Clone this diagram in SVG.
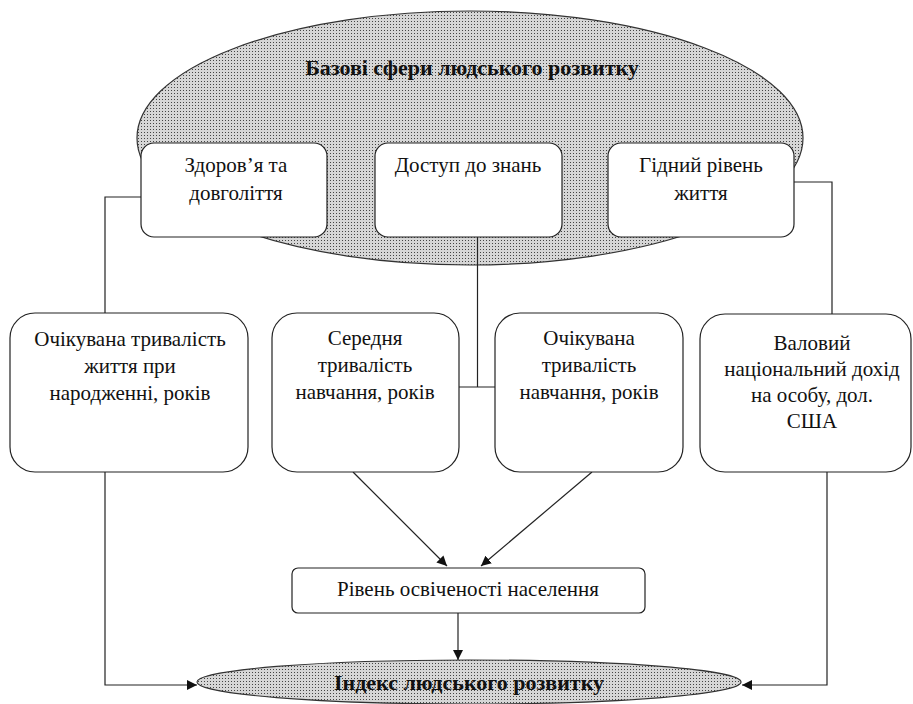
<svg xmlns="http://www.w3.org/2000/svg" width="913" height="704" viewBox="0 0 913 704">
<style>
.box{fill:#fff;stroke:#222;stroke-width:1.2}
.ell{fill:url(#dots);stroke:#333;stroke-width:1.2}
.t{font-family:"Liberation Serif","Times New Roman",serif;font-size:21px;fill:#111;text-anchor:middle}
.tb{font-family:"Liberation Serif","Times New Roman",serif;font-size:22px;font-weight:bold;fill:#111;text-anchor:middle}
.ln{fill:none;stroke:#222;stroke-width:1.2}
</style>
<defs>
<pattern id="dots" width="3" height="3" patternUnits="userSpaceOnUse">
<rect width="3" height="3" fill="#d6d6d6"/>
<rect width="1" height="1" fill="#444"/>
</pattern>
<marker id="arr" viewBox="0 0 10 10" refX="10" refY="5" markerWidth="10" markerHeight="10" markerUnits="userSpaceOnUse" orient="auto">
<path d="M0,0 L10,5 L0,10 z" fill="#111"/>
</marker>
</defs>
<g id="basic-spheres">
<ellipse class="ell" cx="470" cy="138" rx="333" ry="127"/>
<text class="tb" x="472" y="75">Базові сфери людського розвитку</text>
</g>
<g id="connectors">
<polyline class="ln" points="141,197 105,197 105,313"/>
<polyline class="ln" points="794,182 832,182 832,314"/>
<line class="ln" x1="477.5" y1="237" x2="477.5" y2="387"/>
<line class="ln" x1="459" y1="387" x2="495" y2="387"/>
<polyline class="ln" points="105,472 105,685 197,685" marker-end="url(#arr)"/>
<polyline class="ln" points="827,472 827,685 742,685" marker-end="url(#arr)"/>
<line class="ln" x1="353" y1="472" x2="447" y2="566" marker-end="url(#arr)"/>
<line class="ln" x1="592" y1="472" x2="481" y2="566" marker-end="url(#arr)"/>
<line class="ln" x1="458" y1="613" x2="458" y2="660" marker-end="url(#arr)"/>
</g>
<g id="health">
<rect class="box" x="141" y="143" width="186" height="94" rx="13"/>
<text class="t" x="236" y="172">Здоров’я та</text>
<text class="t" x="236" y="200">довголіття</text>
</g>
<g id="knowledge">
<rect class="box" x="375" y="143" width="187" height="94" rx="13"/>
<text class="t" x="468" y="172">Доступ до знань</text>
</g>
<g id="living">
<rect class="box" x="608" y="143" width="186" height="94" rx="13"/>
<text class="t" x="701" y="172">Гідний рівень</text>
<text class="t" x="701" y="200">життя</text>
</g>
<g id="life-expectancy">
<rect class="box" x="10" y="313" width="238" height="159" rx="25"/>
<text class="t" x="130" y="346">Очікувана тривалість</text>
<text class="t" x="130" y="373">життя при</text>
<text class="t" x="130" y="400">народженні, років</text>
</g>
<g id="mean-schooling">
<rect class="box" x="272" y="313" width="187" height="159" rx="25"/>
<text class="t" x="365" y="345">Середня</text>
<text class="t" x="365" y="372">тривалість</text>
<text class="t" x="365" y="399">навчання, років</text>
</g>
<g id="expected-schooling">
<rect class="box" x="495" y="313" width="188" height="159" rx="25"/>
<text class="t" x="589" y="345">Очікувана</text>
<text class="t" x="589" y="372">тривалість</text>
<text class="t" x="589" y="399">навчання, років</text>
</g>
<g id="gni">
<rect class="box" x="700" y="314" width="211" height="158" rx="25"/>
<text class="t" x="812" y="350">Валовий</text>
<text class="t" x="812" y="376">національний дохід</text>
<text class="t" x="812" y="402">на особу, дол.</text>
<text class="t" x="812" y="428">США</text>
</g>
<g id="education-level">
<rect class="box" x="292" y="568" width="353" height="45" rx="6"/>
<text class="t" x="468" y="596">Рівень освіченості населення</text>
</g>
<g id="hdi">
<ellipse class="ell" cx="469" cy="682" rx="272" ry="22"/>
<text class="tb" x="469" y="690">Індекс людського розвитку</text>
</g>
</svg>
